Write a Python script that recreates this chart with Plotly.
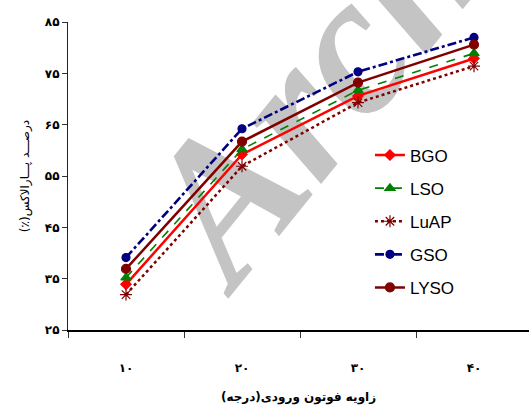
import plotly.graph_objects as go

angles = ["۱۰", "۲۰", "۳۰", "۴۰"]
bgo = [33.9, 59.2, 70.6, 77.9]
lso = [35.2, 60.2, 71.7, 78.9]
luap = [31.9, 56.9, 69.3, 76.4]
gso = [39.1, 64.2, 75.3, 82.0]
lyso = [36.9, 61.7, 73.2, 80.6]
y_ticks = [25, 35, 45, 55, 65, 75, 85]
y_tick_labels = ["۲۵", "۳۵", "۴۵", "۵۵", "۶۵", "۷۵", "۸۵"]

RLM = "\u200f"

series = [
    ("BGO", bgo, "#ff0000", "solid", 2.5, "diamond", 8),
    ("LSO", lso, "#008000", "dash", 1.6, "triangle-up", 9),
    ("LuAP", luap, "#800000", "dot", 2.5, "asterisk-open", 10),
    ("GSO", gso, "#000080", "dashdot", 2.6, "circle", 8),
    ("LYSO", lyso, "#800000", "solid", 2.5, "circle", 9),
]

fig = go.Figure()
for name, vals, color, dash, w, sym, ms in series:
    fig.add_trace(go.Scatter(
        x=angles, y=vals, name=name, mode="lines+markers",
        legendgroup=name,
        line=dict(color=color, dash=dash, width=w),
        marker=dict(symbol=sym, size=ms, color=color, line=dict(color=color, width=1.2)),
    ))

# watermark drawn beneath the traces
fig.add_shape(
    type="rect", xref="paper", yref="paper",
    x0=1.050, x1=1.070, y0=1.870, y1=1.890,
    line=dict(width=0), fillcolor="rgba(0,0,0,0)", layer="below",
    label=dict(text="Archive of SID", textangle=-51,
               textposition="middle center",
               font=dict(family="Liberation Serif", size=200, color="#c4c4c4",
                         weight="bold", style="italic")),
)

fig.update_layout(
    width=529, height=408,
    margin=dict(l=68, r=0, t=22, b=78),
    paper_bgcolor="white", plot_bgcolor="rgba(0,0,0,0)",
    showlegend=True,
    legend=dict(x=0.655, y=0.625, xanchor="left", yanchor="top",
                font=dict(family="Liberation Sans", size=17, color="#000"),
                bgcolor="rgba(0,0,0,0)", tracegroupgap=8, itemwidth=30),
    xaxis=dict(type="category", range=[-0.5, 3.474], tickson="boundaries",
               showline=True, linecolor="#000", linewidth=2, mirror=False,
               ticks="outside", ticklen=6, tickcolor="#333", showgrid=False,
               tickfont=dict(family="DejaVu Sans", size=12, color="#000", weight="bold"),
               ticklabelstandoff=26,
               title=dict(text="<b>زاویه فوتون ورودی(درجه)" + RLM + "</b>",
                          font=dict(family="DejaVu Sans", size=12, color="#000"), standoff=18)),
    yaxis=dict(range=[25, 85], tickvals=y_ticks, ticktext=y_tick_labels,
               showline=True, linecolor="#222", linewidth=1.2, mirror=True,
               ticks="outside", ticklen=5, tickcolor="#333", showgrid=False, zeroline=False,
               tickfont=dict(family="DejaVu Sans", size=12, color="#000", weight="bold"),
               title=dict(text="درصـــد پـــارالاکس(٪)" + RLM,
                          font=dict(family="DejaVu Sans", size=12, color="#000"), standoff=12)),
)

fig.write_html("out.html")
